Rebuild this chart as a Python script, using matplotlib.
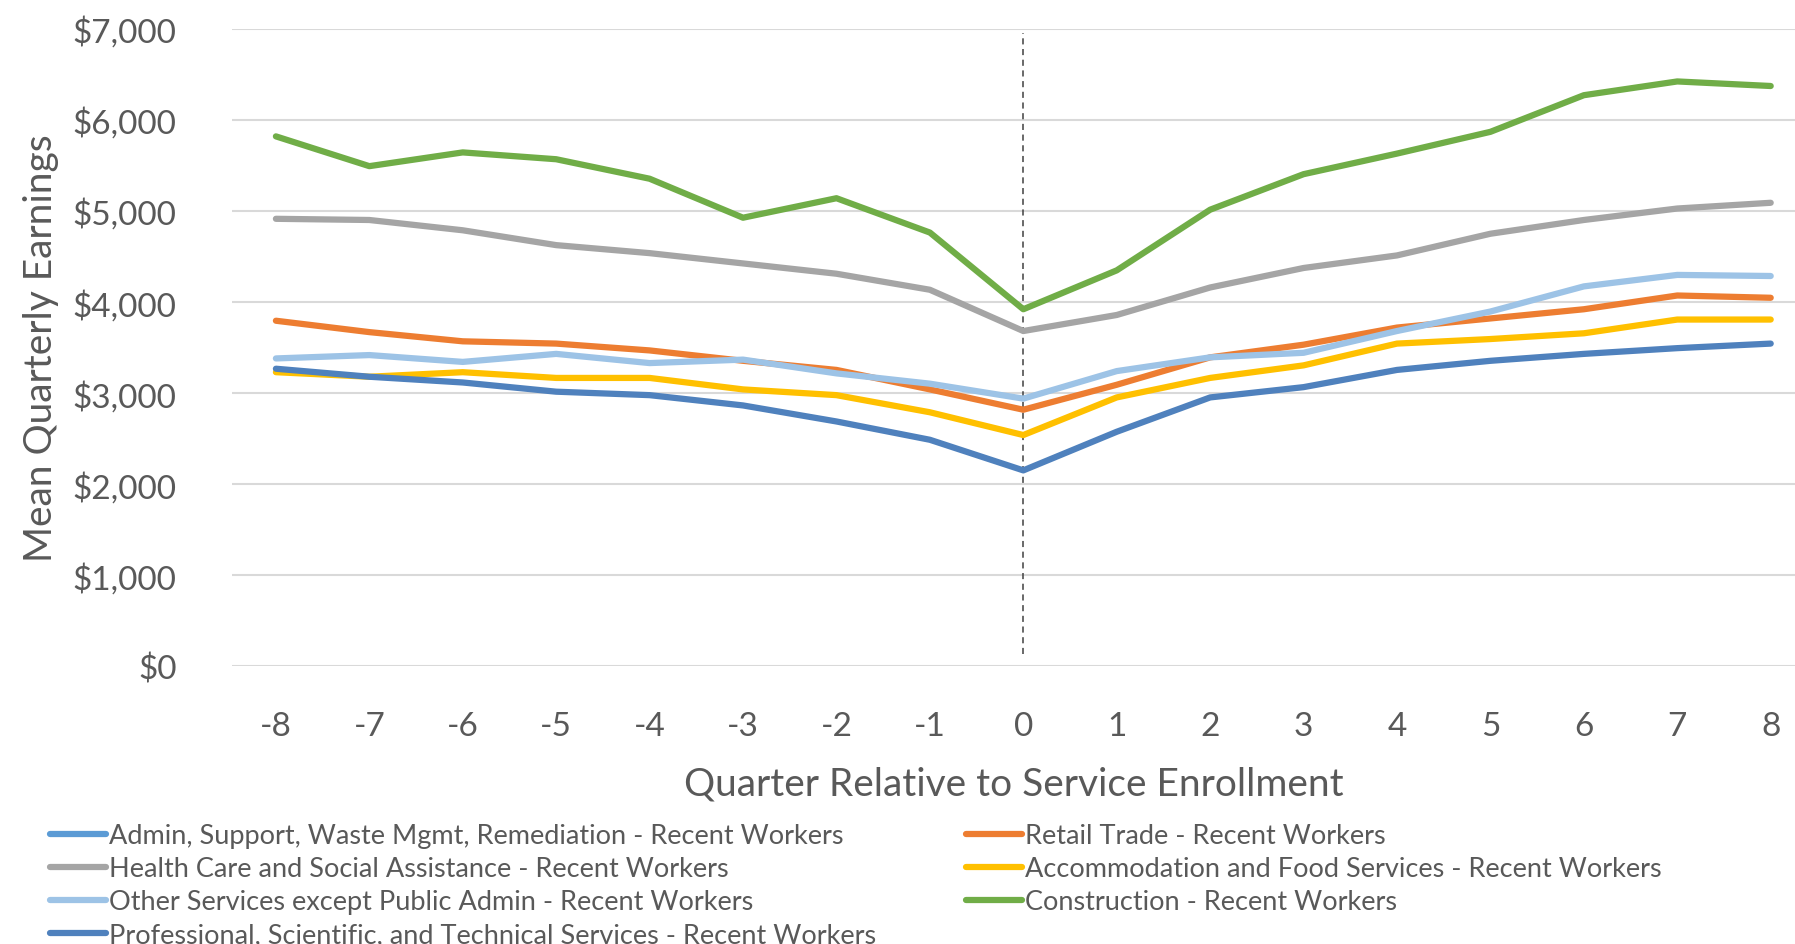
import matplotlib
matplotlib.use("Agg")
import matplotlib.pyplot as plt
from matplotlib.ticker import FuncFormatter
import numpy as np

quarters = list(range(-8, 9))

admin = [np.nan] * 17  # hidden beneath Professional series in the reference
retail = [3795, 3670, 3569, 3544, 3469, 3355, 3255, 3041, 2818, 3092, 3393, 3532, 3720, 3820, 3921, 4072, 4047]
health = [4914, 4901, 4788, 4625, 4537, 4424, 4311, 4135, 3682, 3858, 4160, 4374, 4512, 4750, 4901, 5027, 5090]
accommodation = [3230, 3180, 3230, 3167, 3167, 3041, 2978, 2790, 2540, 2953, 3167, 3305, 3544, 3594, 3657, 3808, 3808]
other = [3381, 3418, 3343, 3431, 3330, 3368, 3217, 3104, 2940, 3242, 3393, 3443, 3682, 3896, 4172, 4298, 4286]
construction = [5819, 5492, 5643, 5568, 5354, 4926, 5140, 4763, 3921, 4348, 5014, 5404, 5630, 5869, 6271, 6422, 6372]
professional = [3268, 3180, 3117, 3016, 2978, 2865, 2689, 2488, 2152, 2576, 2953, 3066, 3255, 3355, 3431, 3494, 3544]

labels = [
    "Admin, Support, Waste Mgmt, Remediation - Recent Workers",
    "Retail Trade - Recent Workers",
    "Health Care and Social Assistance - Recent Workers",
    "Accommodation and Food Services - Recent Workers",
    "Other Services except Public Admin - Recent Workers",
    "Construction - Recent Workers",
    "Professional, Scientific, and Technical Services - Recent Workers",
]
series = [admin, retail, health, accommodation, other, construction, professional]
colors = ["#5B9BD5", "#ED7D31", "#A5A5A5", "#FFC000", "#9DC3E6", "#70AD47", "#4F81BD"]

yticks = [0, 1000, 2000, 3000, 4000, 5000, 6000, 7000]

plt.rcParams['font.family'] = ['Lato', 'DejaVu Sans']
plt.rcParams['axes.unicode_minus'] = False
txt = "#595959"

fig = plt.figure(figsize=(17.95, 9.45), dpi=100)
ax = fig.add_axes([232 / 1795, 1 - 667.4 / 945, 1 - 232 / 1795, (667.4 - 29.8) / 945])

handles = {}
for lab, vals, c in zip(labels, series, colors):
    h, = ax.plot(quarters, vals, color=c, lw=4.5, solid_capstyle='round', solid_joinstyle='round', label=lab, zorder=3)
    handles[lab] = h

ax.plot([0, 0], [140, 6950], color="#404040", lw=1.1, linestyle=(0, (4, 3)), zorder=2)

ax.set_xlim(-8.47, 8.26)
ax.set_ylim(0, 7000)
ax.set_yticks(yticks)
ax.set_xticks(quarters)
ax.yaxis.set_major_formatter(FuncFormatter(lambda v, p: "${:,.0f}".format(v)))
ax.grid(axis='y', color="#D9D9D9", lw=1.5, zorder=0)
for s in ax.spines.values():
    s.set_visible(False)
ax.tick_params(axis='both', length=0, colors=txt)
ax.tick_params(axis='y', pad=40, labelsize=24)
ax.tick_params(axis='x', pad=32, labelsize=24)

ax.set_xlabel("Quarter Relative to Service Enrollment", fontsize=28, color=txt, labelpad=18)
ax.set_ylabel("Mean Quarterly Earnings", fontsize=28, color=txt, labelpad=10)

col1 = [labels[0], labels[2], labels[4], labels[6]]
col2 = [labels[1], labels[3], labels[5]]
leg_kw = dict(frameon=False, fontsize=19.5, handlelength=2.05, handletextpad=0.12,
              labelspacing=0.3, borderpad=0, borderaxespad=0, labelcolor=txt)
l1 = fig.legend([handles[l] for l in col1], col1, loc='upper left',
                bbox_to_anchor=(50 / 1795, 1 - 824 / 945), **leg_kw)
l2 = fig.legend([handles[l] for l in col2], col2, loc='upper left',
                bbox_to_anchor=(966 / 1795, 1 - 824 / 945), **leg_kw)

fig.savefig("out.png", dpi=100)
